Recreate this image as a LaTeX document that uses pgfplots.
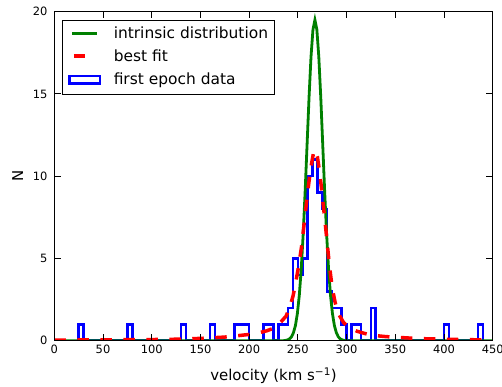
\documentclass[border=0pt]{standalone}
\usepackage{pgfplots}
\pgfplotsset{compat=1.18}
\usepackage{pgfplotstable}
\usepackage{fontspec}
\setmainfont{DejaVu Sans}
\definecolor{mplblue}{rgb}{0,0,1}
\definecolor{mplgreen}{rgb}{0,0.5,0}
\definecolor{mplred}{rgb}{1,0,0}

\pgfplotstableread{
v n
25 0
25 1
30 0
75 1
80 0
130 1
135 0
160 1
165 0
185 1
200 0
215 1
225 0
230 1
240 2
245 5
250 4
255 5
260 10
265 11
270 9
275 8
280 3
285 2
295 1
300 0
305 1
315 0
325 2
330 0
400 1
405 0
435 1
440 0
}\histdata

\pgfplotstableread{
v f
0 0
235 0
237.5 0.02
239.5 0.05
241.5 0.11
243.5 0.24
245.5 0.49
247.5 0.92
249.5 1.65
251.5 2.77
253.5 4.38
255.5 6.51
257.5 9.10
259.5 11.97
261.5 14.82
263.5 17.26
265.5 18.91
267.5 19.5
269.5 18.91
271.5 17.26
273.5 14.82
275.5 11.97
277.5 9.10
279.5 6.51
281.5 4.38
283.5 2.77
285.5 1.65
287.5 0.92
289.5 0.49
291.5 0.24
293.5 0.11
295.5 0.05
297.5 0.02
300 0
450 0
}\intrinsic

\pgfplotstableread{
v f
0 0.04
25 0.045
50 0.05
75 0.06
100 0.07
125 0.09
150 0.14
175 0.22
200 0.38
210 0.48
218 0.6
226 0.78
232 1.1
238 1.5
242 2.1
245 2.7
248 3.6
251 4.6
254 5.8
257 7.4
260 9.0
263 10.4
266 11.4
268 11.6
270 11.2
272 10.4
274 9.4
276 8.3
278 7.2
280 6.0
282 4.8
284 3.8
286 3.0
288 2.4
290 1.9
293 1.5
297 1.1
301 0.87
306 0.7
311 0.57
318 0.45
326 0.33
340 0.25
350 0.21
365 0.16
380 0.12
400 0.09
425 0.06
450 0.05
}\bestfit

\begin{document}
\begin{tikzpicture}
\begin{axis}[
  scale only axis,
  width=438.4bp, height=329bp,
  xmin=0, xmax=450, ymin=0, ymax=20,
  xtick={0,50,...,450}, ytick={0,5,10,15,20},
  minor tick num=0,
  tick align=inside,
  major tick length=6.5bp,
  every tick/.style={black, line width=0.9bp},
  axis line style={black, line width=1.2bp},
  axis on top,
  /pgf/number format/assume math mode=true,
  ticklabel style={font=\fontsize{11.5}{13}\selectfont, inner sep=0pt},
  xticklabel style={anchor=base, yshift=-12.3bp},
  yticklabel style={anchor=east, xshift=-6.6bp},
  xlabel={velocity (km s\textsuperscript{−1})},
  ylabel={N},
  label style={font=\fontsize{15}{18}\selectfont, inner sep=0pt},
  xlabel style={at={(axis description cs:0.5,-0.121)}, anchor=base},
  ylabel style={at={(axis description cs:-0.0707,0.5)}, anchor=south},
  legend style={at={(axis description cs:0.0169,0.9748)}, anchor=north west,
    draw=black, line width=1.1bp, fill=white,
    font=\fontsize{15.5}{18}\selectfont,
    inner xsep=6.2bp, inner ysep=6.5bp, row sep=8bp, column sep=0pt,
    nodes={inner sep=0pt, text height=11.5bp, text depth=3.5bp}},
  legend cell align=left,
]
\addplot[forget plot, const plot, mplblue, line width=2.6bp, line join=miter] table[x=v,y=n] {\histdata};
\addplot[mplgreen, line width=2.8bp,
  legend image code/.code={\path[draw=none,fill=none] (0bp,-6bp) rectangle (45.3bp,6bp);
    \draw[mplgreen, solid, line width=2.8bp] (3.7bp,1.3bp) -- (28.7bp,1.3bp);}]
  table[x=v,y=f] {\intrinsic};
\addlegendentry{intrinsic distribution}
\addplot[mplred, line width=3.5bp, dash pattern=on 11.5bp off 11.5bp,
  legend image code/.code={\path[draw=none,fill=none] (0bp,-6bp) rectangle (45.3bp,6bp);
    \draw[mplred, solid, line width=3.5bp] (5.3bp,1.3bp) -- (17bp,1.3bp);}]
  table[x=v,y=f] {\bestfit};
\addlegendentry{best fit}
\addlegendimage{legend image code/.code={\path[draw=none,fill=none] (0bp,-6bp) rectangle (45.3bp,6bp);
    \draw[mplblue, solid, line width=2.6bp, line join=miter] (1.3bp,-2.7bp) rectangle (31.7bp,4.7bp);}}
\addlegendentry{first epoch data}
\coordinate (sw) at (rel axis cs:0,0);
\coordinate (ne) at (rel axis cs:1,1);
\end{axis}
\pgfresetboundingbox
\path ([shift={(-54.3bp,-46.3bp)}]sw) rectangle ([shift={(9.3bp,11.7bp)}]ne);
\end{tikzpicture}
\end{document}
